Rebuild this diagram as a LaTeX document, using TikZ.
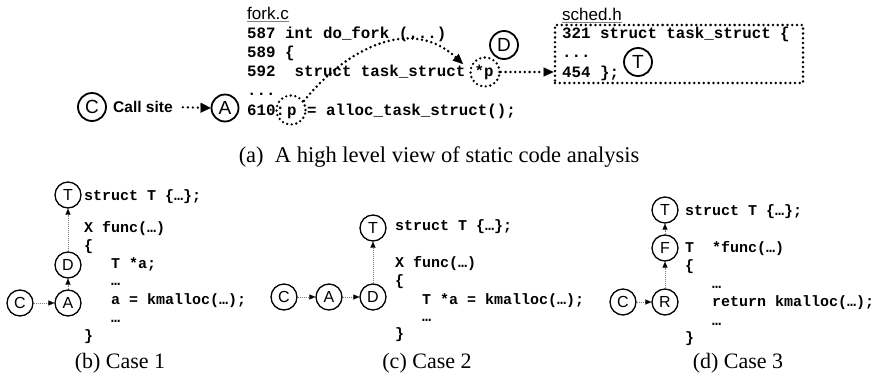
\documentclass[tikz,border=0pt]{standalone}
\usepackage{fontspec}
\setmainfont{Liberation Serif}
\setsansfont{Liberation Sans}
\setmonofont{Liberation Mono}
\usetikzlibrary{arrows.meta}
\begin{document}
\begin{tikzpicture}[x=1pt,y=-1pt,
  bigdot/.style={line width=2.8pt, dash pattern=on 0pt off 4.8pt, line cap=round},
  topcirc/.style={circle, draw, line width=1.8pt, minimum size=28pt, inner sep=0pt, font=\fontsize{19}{19}\selectfont\sffamily},
  dotcirc/.style={circle, draw, line width=2.6pt, dash pattern=on 0pt off 4.6pt, line cap=round, minimum size=29pt, inner sep=0pt},
  botcirc/.style={circle, draw, line width=1.3pt, minimum size=26pt, inner sep=0pt, font=\fontsize{16}{16}\selectfont\sffamily},
  topcode/.style={anchor=base west, inner sep=0pt, font=\fontsize{15.8}{19}\selectfont\ttfamily\bfseries},
  botcode/.style={anchor=base west, inner sep=0pt, font=\fontsize{15}{18}\selectfont\ttfamily\bfseries},
  capt/.style={anchor=base, inner sep=0pt, font=\fontsize{22}{24}\selectfont\rmfamily},
  fname/.style={anchor=base west, inner sep=0pt, font=\fontsize{17}{17}\selectfont\sffamily},
  botarrow/.style={gray, line width=0.7pt, dash pattern=on 1pt off 1pt, -{Triangle[length=6pt,width=5pt,color=black,line width=0.1pt]}},
  bigarrow/.style={bigdot, -{Triangle[length=10pt,width=9pt,line width=0.1pt]}}
]
\useasboundingbox (0,0) rectangle (878,381);

% ---------- (a) ----------
\node[fname] (forkc) at (247,19) {fork.c};
\draw[gray, line width=0.8pt] ([yshift=-2pt]forkc.base west) -- ([yshift=-2pt]forkc.base east);
\node[topcode] (l587) at (247,38) {587 int do\_fork (...)};
\node[topcode] (l589) at (247,57) {589 \{};
\node[topcode] (l592) at (247,76.5) {592\ \ struct task\_struct *p};
\node[topcode] (ldots) at (247,95) {...};
\node[topcode] (l610) at (247,115) {610:};
\node[topcode] (pvar) at (287,115) {p};
\node[topcode] (l610b) at (307,115) {= alloc\_task\_struct();};

\node[dotcirc] (pc) at (291,110) {};
\node[dotcirc] (ps) at (485,72) {};
\node[topcirc] (D) at (504,45) {D};

\node[fname] (schedh) at (562,20) {sched.h};
\draw[gray, line width=0.8pt] ([yshift=-2pt]schedh.base west) -- ([yshift=-2pt]schedh.base east);
\node[draw, bigdot, minimum width=248pt, minimum height=58pt, inner sep=0pt] (box) at (679,54) {};
\node[topcode] (l321) at (562,38) {321 struct task\_struct \{};
\node[topcode] (lbdots) at (562,57) {...};
\node[topcode] (l454) at (562,77) {454 \};};
\node[topcirc] (T) at (638,62) {T};

\node[topcirc] (C) at (92,107) {C};
\node[anchor=base west, inner sep=0pt, font=\fontsize{15.5}{16}\selectfont\sffamily\bfseries] (cs) at (113,112.5) {Call site};
\node[topcirc, minimum size=27pt] (A) at (225,108) {A};

\coordinate (dtip) at (463,64);
\draw[bigarrow] (pc.35) .. controls (345,50) and (410,15) .. (dtip);
\draw[bigarrow] (ps.east) -- (ps.east -| box.west);
\draw[line width=2.6pt, dash pattern=on 0pt off 5pt, line cap=round, -{Triangle[length=10pt,width=10pt,line width=0.1pt]}, shorten <=10pt] (cs.east) -- (A.west);

\node[capt, font=\fontsize{22.5}{24}\selectfont\rmfamily] (capa) at (439,162) {(a)\ \ A high level view of static code analysis};

% ---------- (b) ----------
\node[botcirc] (T1) at (68,195) {T};
\node[botcirc] (D1) at (68,265) {D};
\node[botcirc] (A1) at (68,303) {A};
\node[botcirc] (C1) at (20,303) {C};
\draw[botarrow] (C1) -- (A1);
\draw[botarrow] (A1) -- (D1);
\draw[botarrow] (D1) -- (T1);
\node[botcode] (b1) at (84,200) {struct T \{…\};};
\node[botcode] (b2) at (84,232) {X func(…)};
\node[botcode] (b3) at (84,250) {\{};
\node[botcode] (b4) at (111,268) {T *a;};
\node[botcode] (b5) at (111,285) {…};
\node[botcode] (b6) at (111,304) {a = kmalloc(…);};
\node[botcode] (b7) at (111,322) {…};
\node[botcode] (b8) at (84,340) {\}};
\node[capt] (capb) at (120,368) {(b)\ Case 1};

% ---------- (c) ----------
\node[botcirc] (T2) at (373,228) {T};
\node[botcirc] (D2) at (373,297) {D};
\node[botcirc] (A2) at (329,297) {A};
\node[botcirc] (C2) at (284,297) {C};
\draw[botarrow] (C2) -- (A2);
\draw[botarrow] (A2) -- (D2);
\draw[botarrow] (D2) -- (T2);
\node[botcode] (c1) at (395,230) {struct T \{…\};};
\node[botcode] (c2) at (395,267) {X func(…)};
\node[botcode] (c3) at (395,285) {\{};
\node[botcode] (c4) at (422,304) {T *a = kmalloc(…);};
\node[botcode] (c5) at (422,321) {…};
\node[botcode] (c6) at (395,338) {\}};
\node[capt] (capc) at (427,368) {(c)\ Case 2};

% ---------- (d) ----------
\node[botcirc] (T3) at (665,210) {T};
\node[botcirc] (F3) at (665,248) {F};
\node[botcirc] (R3) at (665,302) {R};
\node[botcirc] (C3) at (623,302) {C};
\draw[botarrow] (C3) -- (R3);
\draw[botarrow] (R3) -- (F3);
\draw[botarrow] (F3) -- (T3);
\node[botcode] (d1) at (685,215) {struct T \{…\};};
\node[botcode] (d2) at (685,252) {T\ \ *func(…)};
\node[botcode] (d3) at (685,270) {\{};
\node[botcode] (d4) at (712,288) {…};
\node[botcode] (d5) at (712,306) {return kmalloc(…);};
\node[botcode] (d6) at (712,325) {…};
\node[botcode] (d7) at (685,342) {\}};
\node[capt] (capd) at (738,368) {(d)\ Case 3};
\end{tikzpicture}
\end{document}
